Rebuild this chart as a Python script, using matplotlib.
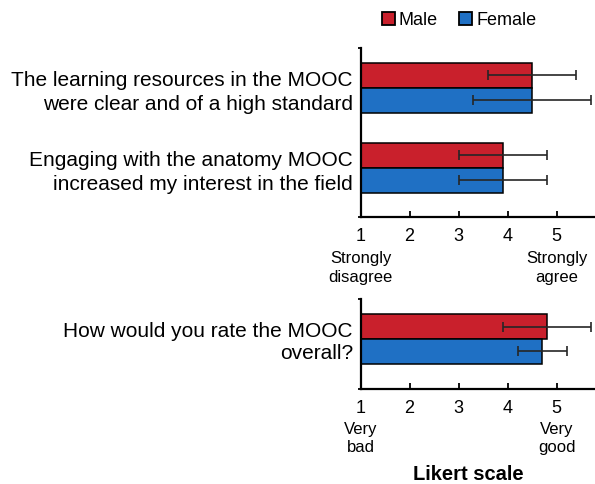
import matplotlib.pyplot as plt
from matplotlib.patches import Patch
import numpy as np

plt.rcParams['font.family'] = ['Liberation Sans', 'DejaVu Sans']

# Survey responses (mean and SD on a 1-5 Likert scale)
questions_top = ["The learning resources in the MOOC\nwere clear and of a high standard",
                 "Engaging with the anatomy MOOC\nincreased my interest in the field"]
male_top = [4.5, 3.9]
male_top_sd = [0.9, 0.9]
female_top = [4.5, 3.9]
female_top_sd = [1.2, 0.9]

questions_bottom = ["How would you rate the MOOC\noverall?"]
male_bottom = [4.8]
male_bottom_sd = [0.9]
female_bottom = [4.7]
female_bottom_sd = [0.5]

ticks = [1, 2, 3, 4, 5]
anchors_top = ["Strongly\ndisagree", "Strongly\nagree"]
anchors_bottom = ["Very\nbad", "Very\ngood"]

RED = "#C9202C"
BLUE = "#1F70C4"
ERR = "#262626"
BAR_H = 0.31

fig = plt.figure(figsize=(5.95, 4.84), dpi=100)
ax_top = fig.add_axes([0.606, 0.551, 0.394, 0.350])
ax_bot = fig.add_axes([0.606, 0.196, 0.394, 0.186])


def draw_panel(ax, questions, male, male_sd, female, female_sd, ylim, anchors,
               anchor_off, anchor_ls, label_ls):
    y = np.arange(len(questions))
    male = np.array(male)
    female = np.array(female)
    ax.barh(y - BAR_H / 2, male - 1, left=1, height=BAR_H, color=RED,
            edgecolor="black", linewidth=1.1, zorder=2)
    ax.barh(y + BAR_H / 2, female - 1, left=1, height=BAR_H, color=BLUE,
            edgecolor="black", linewidth=1.1, zorder=2)
    ax.errorbar(male, y - BAR_H / 2, xerr=male_sd, fmt="none", ecolor=ERR,
                elinewidth=1.2, capsize=3.5, capthick=1.2, zorder=3)
    ax.errorbar(female, y + BAR_H / 2, xerr=female_sd, fmt="none", ecolor=ERR,
                elinewidth=1.2, capsize=3.5, capthick=1.2, zorder=3)

    ax.set_xlim(1, 5.78)
    ax.set_ylim(ylim[1], ylim[0])
    ax.set_xticks(ticks)
    ax.set_xticklabels([str(t) for t in ticks], fontsize=13)
    ax.tick_params(axis="x", direction="in", length=4, width=1.3, pad=8)

    ax.set_yticks(y)
    ax.set_yticklabels(questions, fontsize=15, linespacing=label_ls, ha="right")
    ax.tick_params(axis="y", length=0, pad=5.5)
    ax.set_yticks(list(ylim), minor=True)
    ax.tick_params(axis="y", which="minor", length=2.5, width=1.3, direction="out")

    for s in ("top", "right"):
        ax.spines[s].set_visible(False)
    for s in ("left", "bottom"):
        ax.spines[s].set_linewidth(1.6)

    for xpos, txt in zip((1, 5), anchors):
        ax.annotate(txt, xy=(xpos, 0), xycoords=("data", "axes fraction"),
                    xytext=(0, -anchor_off), textcoords="offset points",
                    ha="center", va="center", fontsize=12, linespacing=anchor_ls)


draw_panel(ax_top, questions_top, male_top, male_top_sd, female_top, female_top_sd,
           (-0.5, 1.62), anchors_top, 36.5, 1.4, 1.35)
draw_panel(ax_bot, questions_bottom, male_bottom, male_bottom_sd, female_bottom,
           female_bottom_sd, (-0.5, 0.63), anchors_bottom, 35.8, 1.25, 1.2)

ax_bot.annotate("Likert scale", xy=(3.2, 0), xycoords=("data", "axes fraction"),
                xytext=(0, -61.5), textcoords="offset points",
                ha="center", va="center", fontsize=14.5, fontweight="bold")

handles = [Patch(facecolor=RED, edgecolor="black", linewidth=1.3, label="Male"),
           Patch(facecolor=BLUE, edgecolor="black", linewidth=1.3, label="Female")]
fig.legend(handles=handles, loc="center", bbox_to_anchor=(459 / 595, 1 - 20.7 / 484),
           ncol=2, frameon=False, fontsize=13, handlelength=0.72, handleheight=0.72,
           handletextpad=0.22, columnspacing=1.2, borderpad=0)

fig.savefig("out.png", dpi=100)
